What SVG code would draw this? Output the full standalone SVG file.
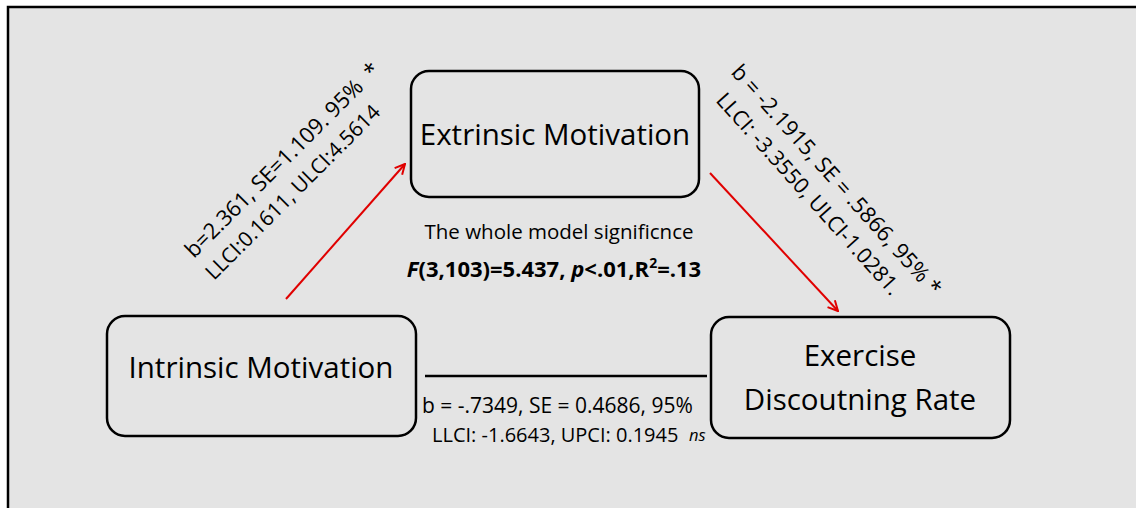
<svg xmlns="http://www.w3.org/2000/svg" width="1136" height="508" viewBox="0 0 1136 508">
<style>
.node rect{fill:#e4e4e4;stroke:#000;stroke-width:2.5}
text{font-family:"Open Sans","Noto Sans","Liberation Sans",sans-serif;fill:#000}
.lbl{font-size:29.5px}
.stat{font-size:22px}
.red{stroke:#e00000;stroke-width:2;fill:none}
</style>
<defs>
<marker id="ah" viewBox="0 0 12 12" refX="11" refY="6" markerWidth="12" markerHeight="12" markerUnits="userSpaceOnUse" orient="auto">
<path d="M1,1 L11,6 L1,11" fill="none" stroke="#e00000" stroke-width="2"/>
</marker>
</defs>
<rect x="0" y="0" width="1136" height="508" fill="#fff"/>
<rect x="8" y="7" width="1140" height="510" fill="#e4e4e4" stroke="#000" stroke-width="2.5"/>
<g id="extrinsic" class="node">
<rect x="411" y="71" width="288" height="126" rx="18"/>
<text class="lbl" x="555" y="145" text-anchor="middle">Extrinsic Motivation</text>
</g>
<g id="intrinsic" class="node">
<rect x="107" y="316" width="309" height="120" rx="18"/>
<text class="lbl" x="261" y="378" text-anchor="middle">Intrinsic Motivation</text>
</g>
<g id="exercise" class="node">
<rect x="711" y="317" width="299" height="121" rx="18"/>
<text class="lbl" x="860" y="366" text-anchor="middle">Exercise</text>
<text class="lbl" x="860" y="410" text-anchor="middle">Discoutning Rate</text>
</g>
<g id="connectors">
<line class="red" x1="286" y1="299" x2="405" y2="164" marker-end="url(#ah)"/>
<line class="red" x1="710" y1="173" x2="838" y2="311" marker-end="url(#ah)"/>
<line x1="425" y1="376" x2="707" y2="376" stroke="#000" stroke-width="2.5"/>
</g>
<g id="labels">
<text class="stat" transform="translate(194,259) rotate(-45)">b=2.361, SE=1.109. 95% &#160;*</text>
<text class="stat" style="font-size:20.8px" transform="translate(214,281) rotate(-45)">LLCI:0.1611, ULCI:4.5614</text>
<text class="stat" transform="translate(730,73) rotate(48)">b = -2.1915, SE = .5866, 95% *</text>
<text class="stat" style="font-size:21.4px" transform="translate(715,101) rotate(48)">LLCI: -3.3550, ULCI-1.0281.</text>
<text x="559" y="239" font-size="20.5" text-anchor="middle">The whole model significnce</text>
<text x="554" y="277" font-size="22" font-weight="bold" text-anchor="middle"><tspan font-style="italic">F</tspan>(3,103)=5.437, <tspan font-style="italic">p</tspan>&lt;.01,R<tspan font-size="14" dy="-9">2</tspan><tspan dy="9">=.13</tspan></text>
<text x="422" y="413" font-size="21">b = -.7349, SE = 0.4686, 95%</text>
<text x="432" y="442" font-size="20">LLCI: -1.6643, UPCI: 0.1945</text>
<text x="689" y="441" font-size="16.5" font-style="italic">ns</text>
</g>
</svg>
